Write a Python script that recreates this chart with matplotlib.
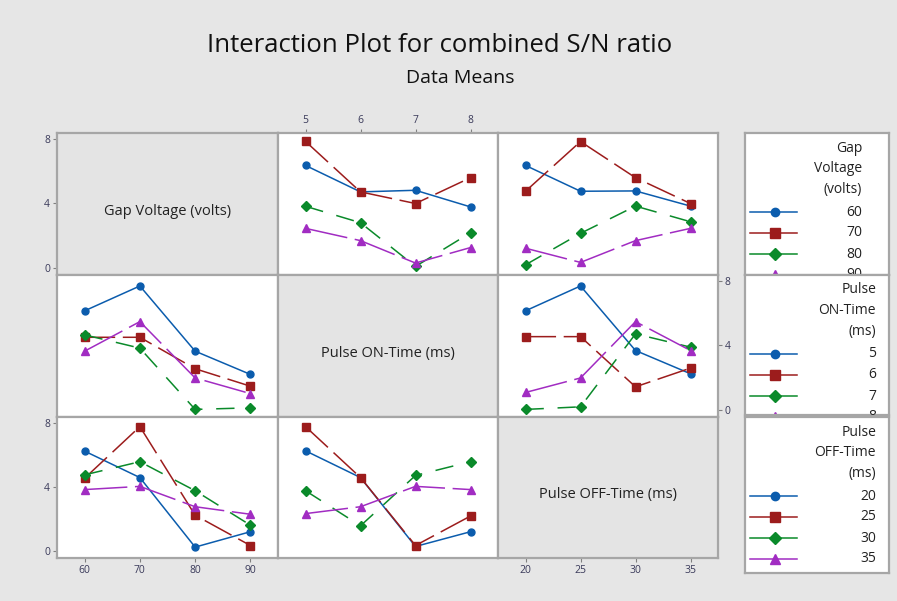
import matplotlib.pyplot as plt
from matplotlib.lines import Line2D

plt.rcParams['font.family'] = ['Open Sans', 'DejaVu Sans']

# factor levels
gap_levels = [60, 70, 80, 90]
on_levels = [5, 6, 7, 8]
off_levels = [20, 25, 30, 35]

# means, one row per trace level
gv_by_on = [[6.34, 4.70, 4.80, 3.77], [7.83, 4.70, 3.98, 5.58],
            [3.81, 2.79, 0.08, 2.17], [2.44, 1.68, 0.29, 1.25]]
gv_by_off = [[6.34, 4.74, 4.76, 3.82], [4.74, 7.82, 5.58, 3.98],
             [0.18, 2.13, 3.82, 2.85], [1.21, 0.33, 1.68, 2.44]]
on_by_gv = [[6.13, 7.67, 3.63, 2.19], [4.49, 4.49, 2.54, 1.46],
            [4.64, 3.82, 0.02, 0.12], [3.63, 5.46, 1.97, 1.00]]
on_by_off = [[6.13, 7.67, 3.67, 2.23], [4.53, 4.53, 1.42, 2.58],
             [0.02, 0.18, 4.70, 3.88], [1.07, 1.97, 5.46, 3.67]]
off_by_gv = [[6.22, 4.57, 0.23, 1.19], [4.53, 7.75, 2.22, 0.33],
             [4.74, 5.56, 3.75, 1.60], [3.82, 4.02, 2.75, 2.28]]
off_by_on = [[6.24, 4.57, 0.27, 1.19], [7.75, 4.57, 0.33, 2.17],
             [3.75, 1.56, 4.70, 5.56], [2.32, 2.75, 4.02, 3.82]]

factor_names = ["Gap Voltage (volts)", "Pulse ON-Time (ms)", "Pulse OFF-Time (ms)"]
legend_titles = [["Gap", "Voltage", "(volts)"], ["Pulse", "ON-Time", "(ms)"],
                 ["Pulse", "OFF-Time", "(ms)"]]
levels = [gap_levels, on_levels, off_levels]
xlims = [(55, 95), (4.5, 8.5), (17.5, 37.5)]

colors = ['#0b5cad', '#9c1c1c', '#0a8a2a', '#a12cc2']
markers = ['o', 's', 'D', '^']
msizes = [5, 5.8, 5.2, 6.2]
styles = ['-', (0, (20, 5)), (0, (12, 9)), (0, (28, 5))]

W, H = 897, 601
fig = plt.figure(figsize=(W / 100, H / 100), dpi=100)
fig.patch.set_facecolor('#e6e6e6')


def px_axes(x0, y0, x1, y1):
    return fig.add_axes([x0 / W, 1 - y1 / H, (x1 - x0) / W, (y1 - y0) / H])


col_x = [(57, 278), (278, 498), (498, 718)]
row_y = [(133, 275), (275, 417), (417, 558)]

panels = {(0, 1): gv_by_on, (0, 2): gv_by_off,
          (1, 0): on_by_gv, (1, 2): on_by_off,
          (2, 0): off_by_gv, (2, 1): off_by_on}

for r in range(3):
    for c in range(3):
        x0, x1 = col_x[c]
        y0, y1 = row_y[r]
        ax = px_axes(x0, y0, x1, y1)
        ax.set_xlim(*xlims[c])
        ax.set_ylim(-0.45, 8.35)
        for s in ax.spines.values():
            s.set_color('#a6a6a6')
            s.set_linewidth(1.6)
        ax.tick_params(length=3, width=0.8, color='#808080', labelsize=7.5,
                       labelcolor='#3a3a5a', pad=2)
        ax.set_xticks(levels[c])
        ax.set_yticks([0, 4, 8])
        ax.tick_params(bottom=False, labelbottom=False, left=False, labelleft=False)
        if r == c:
            ax.set_facecolor('#e4e4e4')
            ax.text(0.5, 0.45, factor_names[r], transform=ax.transAxes,
                    ha='center', va='center', fontsize=10.5, color='#222222')
        else:
            ax.set_facecolor('white')
            data = panels[(r, c)]
            for i, ys in enumerate(data):
                ax.plot(levels[c], ys, color=colors[i], linestyle=styles[i],
                        linewidth=1.1, marker=markers[i], markersize=msizes[i],
                        markeredgecolor=colors[i], clip_on=False)
        if r == 0 and c == 0:
            ax.tick_params(left=True, labelleft=True)
        if r == 0 and c == 1:
            ax.tick_params(top=True, labeltop=True)
        if r == 1 and c == 2:
            ax.tick_params(right=True, labelright=True)
        if r == 2 and c != 1:
            ax.tick_params(bottom=True, labelbottom=True)
        if r == 2 and c == 0:
            ax.tick_params(left=True, labelleft=True)

# legend boxes, one per row (clipped like the original)
leg_y = [(133, 275), (275, 415), (417, 573)]
for r in range(3):
    y0, y1 = leg_y[r]
    lax = px_axes(745, y0, 889, y1)
    lax.set_facecolor('white')
    lax.set_xlim(745, 889)
    lax.set_ylim(y1, y0)
    lax.set_xticks([])
    lax.set_yticks([])
    for s in lax.spines.values():
        s.set_color('#a6a6a6')
        s.set_linewidth(1.6)
    tx = 862 if r == 0 else 876
    for k, line in enumerate(legend_titles[r]):
        lax.text(tx, y0 + 15 + k * 21, line, ha='right', va='center',
                 fontsize=10, color='#222222', clip_on=True)
    for i, lv in enumerate(levels[r]):
        yy = y0 + 79 + i * 21
        lax.add_line(Line2D([750, 797], [yy, yy], color=colors[i], linewidth=1.1))
        lax.plot([775], [yy], marker=markers[i], markersize=msizes[i] + 1,
                 color=colors[i], clip_on=True)
        lax.text(tx, yy, str(lv), ha='right', va='center', fontsize=10,
                 color='#222222', clip_on=True)

fig.text(440 / W, 1 - 45 / H, "Interaction Plot for combined S/N ratio",
         ha='center', va='center', fontsize=18.5, color='#111111')
fig.text(460 / W, 1 - 78 / H, "Data Means", ha='center', va='center',
         fontsize=14, color='#111111')

fig.savefig('out.png', dpi=100, facecolor=fig.get_facecolor())
